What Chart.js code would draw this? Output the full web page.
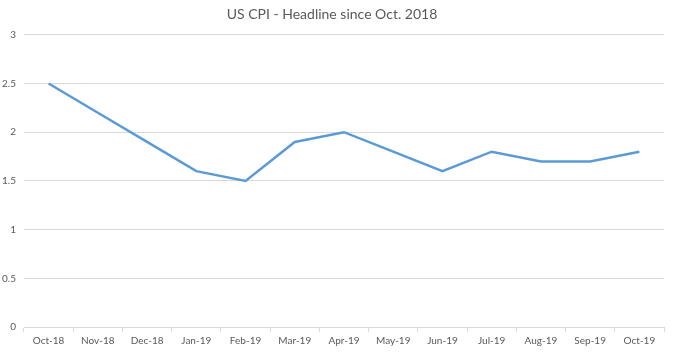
<!DOCTYPE html>
<html>
<head>
<meta charset="utf-8">
<script src="https://cdn.jsdelivr.net/npm/chart.js@4"></script>
<style>
  html, body { margin: 0; padding: 0; background: #fff; }
  #wrap { width: 679px; height: 353px; }
</style>
</head>
<body>
<div id="wrap"><canvas id="cpiChart" width="679" height="353"></canvas></div>
<script>
// data
const months = ['Oct-18', 'Nov-18', 'Dec-18', 'Jan-19', 'Feb-19', 'Mar-19', 'Apr-19',
  'May-19', 'Jun-19', 'Jul-19', 'Aug-19', 'Sep-19', 'Oct-19'];
const cpiValues = [2.5, 2.2, 1.9, 1.6, 1.5, 1.9, 2.0, 1.8, 1.6, 1.8, 1.7, 1.7, 1.8];
const yTicks = [0, 0.5, 1, 1.5, 2, 2.5, 3];

const textGrey = '#595959';
const gridGrey = '#d9d9d9';

new Chart(document.getElementById('cpiChart').getContext('2d'), {
  type: 'line',
  data: {
    labels: months,
    datasets: [{
      data: cpiValues,
      borderColor: '#5b9bd5',
      borderWidth: 2.5,
      pointRadius: 0,
      tension: 0,
      fill: false
    }]
  },
  options: {
    responsive: false,
    animation: false,
    layout: { padding: { left: 0, right: 15, top: 0, bottom: 3 } },
    plugins: {
      legend: { display: false },
      tooltip: { enabled: false },
      title: {
        display: true,
        text: 'US CPI - Headline since Oct. 2018',
        color: textGrey,
        font: { family: 'Lato', size: 14, weight: 'normal' },
        padding: { top: 6, bottom: 12 }
      }
    },
    scales: {
      x: {
        offset: true,
        grid: {
          offset: true,
          drawOnChartArea: false,
          drawTicks: true,
          tickLength: 5,
          color: gridGrey
        },
        border: { color: gridGrey },
        ticks: {
          color: textGrey,
          font: { family: 'Lato', size: 10 },
          maxRotation: 0,
          autoSkip: false,
          padding: 3
        }
      },
      y: {
        min: 0,
        max: 3,
        afterBuildTicks: scale => { scale.ticks = yTicks.map(v => ({ value: v })); },
        afterFit: scale => { scale.width = 24; },
        grid: { color: gridGrey, drawTicks: false },
        border: { display: false },
        ticks: {
          color: textGrey,
          font: { family: 'Lato', size: 10 },
          padding: 8,
          callback: v => String(v)
        }
      }
    }
  }
});
</script>
</body>
</html>
